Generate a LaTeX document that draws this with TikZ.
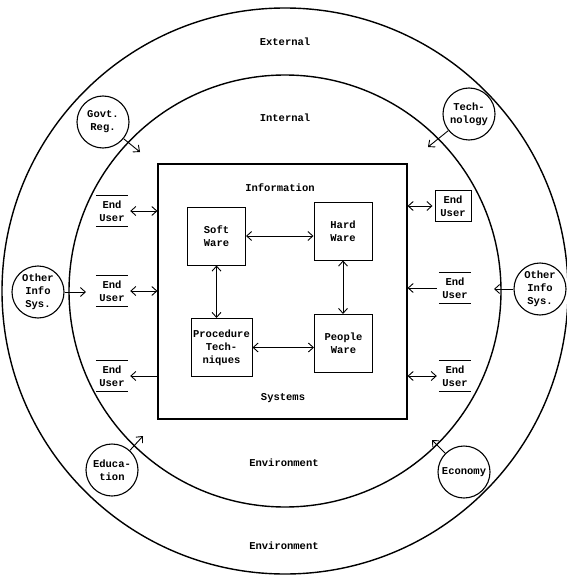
\documentclass[tikz,border=0pt]{standalone}
\usepackage{fontspec}
\newfontfamily\typewriter{Liberation Mono}
\usetikzlibrary{arrows.meta}
\begin{document}
\begin{tikzpicture}[x=1pt,y=-1pt,
  >={Straight Barb[length=5pt,width=9pt]},
  every node/.style={font=\typewriter\bfseries\fontsize{10.5}{13}\selectfont, align=center},
  ring/.style={line width=1.4pt},
  factor/.style={draw, circle, line width=1.1pt, inner sep=0pt, minimum size=52pt},
  part/.style={draw, line width=1pt, inner sep=1pt, minimum width=58pt, minimum height=58pt},
  store/.style={inner sep=0pt, minimum width=32pt, minimum height=31pt},
  storeline/.style={line width=1pt},
  link/.style={line width=0.9pt},
]
\useasboundingbox (0,0) rectangle (566,575);

% environment rings
\draw[ring] (285,291) circle[radius=283pt];
\draw[ring] (285,291) circle[radius=216pt];

% ring captions
\node (external) at (285,42) {External};
\node (internal) at (285,118) {Internal};
\node (envin) at (284,463) {Environment};
\node (envout) at (284,546) {Environment};

% information system block
\node[draw, line width=1.1pt, minimum width=249pt, minimum height=255pt] (sys) at (282.5,291.5) {};
\node (infocap) at (280,188) {Information};
\node (syscap) at (283,398) {Systems};

\node[part] (soft) at (216.5,236) {Soft\\Ware};
\node[part] (hard) at (343,231) {Hard\\Ware};
\node[part, minimum width=61pt] (proc) at (221.5,347.5) {Procedure\\Tech-\\niques};
\node[part] (people) at (343.5,343.5) {People\\Ware};

\draw[link,<->] (soft.east) -- (hard.west |- soft.east);
\draw[link,<->] (soft.south) -- (proc.north -| soft.south);
\draw[link,<->] (hard.south) -- (people.north -| hard.south);
\draw[link,<->] (proc.east) -- (people.west |- proc.east);

% end users (data-store style: rule above and below)
\node[store] (eul1) at (112,211) {End\\User};
\node[store] (eul2) at (112,291) {End\\User};
\node[store] (eul3) at (112,376) {End\\User};
\node[draw, line width=1pt, inner sep=0pt, minimum width=36pt, minimum height=31pt] (eur1) at (453,206) {End\\User};
\node[store] (eur2) at (455,288) {End\\User};
\node[store] (eur3) at (455,376) {End\\User};

\foreach \n in {eul1,eul2,eul3,eur2,eur3}{
  \draw[storeline] (\n.north west) -- (\n.north east) (\n.south west) -- (\n.south east);
}

\draw[link,<->] ([xshift=2pt]eul1.east) -- (sys.west |- eul1.east);
\draw[link,<->] ([xshift=2pt]eul2.east) -- (sys.west |- eul2.east);
\draw[link,<-] ([xshift=2pt]eul3.east) -- (sys.west |- eul3.east);
\draw[link,<->] ([xshift=-2pt]eur1.west) -- (sys.east |- eur1.west);
\draw[link,->] ([xshift=-2pt]eur2.west) -- (sys.east |- eur2.west);
\draw[link,<->] ([xshift=-2pt]eur3.west) -- (sys.east |- eur3.west);

% external factors
\node[factor] (govt) at (103,122) {Govt.\\Reg.};
\node[factor] (tech) at (469,114) {Tech-\\nology};
\node[factor] (otherl) at (38,292) {Other\\Info\\Sys.};
\node[factor] (otherr) at (540,289) {Other\\Info\\Sys.};
\node[factor] (edu) at (112,470) {Educa-\\tion};
\node[factor] (econ) at (464,472) {Economy};

\coordinate (govtin) at (140,152);
\coordinate (techin) at (428,147);
\coordinate (otherlin) at (86,292);
\coordinate (otherrin) at (494,289);
\coordinate (eduin) at (143,436);
\coordinate (econin) at (432,440);

\draw[link,->] (govt) -- (govtin);
\draw[link,->] (tech) -- (techin);
\draw[link,->] (otherl) -- (otherlin);
\draw[link,->] (otherr) -- (otherrin);
\draw[link,->] (edu) -- (eduin);
\draw[link,->] (econ) -- (econin);
\end{tikzpicture}
\end{document}
